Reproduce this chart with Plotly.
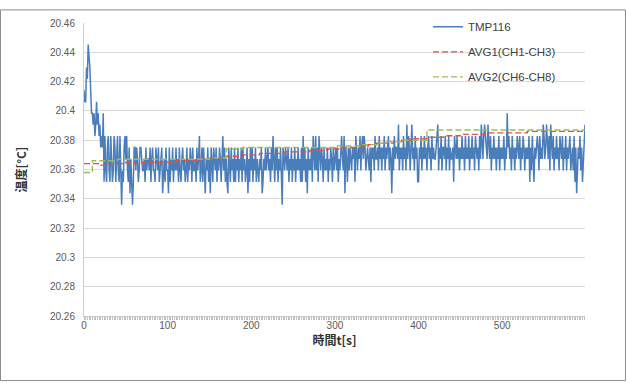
import plotly.graph_objects as go

# TMP116 readings, encoded as quantisation steps (hex digit) above 20.3359375 degC, 1 s apart
BASE = 20.3359375
LSB = 0.0078125
tmp116_codes = [
    "a99cbedca887867978675658" + "26325632642365246326303256",
    "4632514202" + "5535423554" + "3342534435" + "2453325435" + "2345134253",
    "3152435243" + "5342532453" + "4235243542" + "5334253462" + "3525214352",
    "4153254352" + "4354256352" + "4215325342" + "5243524352" + "5342351425",
    "3524352432" + "4351243534" + "5342536425" + "3524352054" + "3543524352",
    "4352435342" + "5263524153" + "4352643635" + "2643542534" + "3524354253",
    "4535243564" + "3615425354" + "3545264354" + "6356465345" + "4352545364",
    "4536453546" + "3545635415" + "3645547354" + "5364537465" + "3574536452",
    "2546354645" + "3564536454" + "4567354635" + "5463546354" + "4526546453",
    "5464536454" + "6354645365" + "4536475467" + "6547546354" + "6453546354",
    "5463548564" + "5364535465" + "4635465354" + "5462536425" + "4565364547",
    "6457546375" + "4635464536" + "5463546354" + "5634536251" + "3546352457",
]
tmp116 = [BASE + int(c, 16) * LSB for c in "".join(tmp116_codes)]
time_s = list(range(len(tmp116)))

# averages, read every 10 s
avg_time = list(range(0, 600, 10))
avg1 = [20.364, 20.364, 20.363, 20.364, 20.364, 20.365, 20.364, 20.365, 20.365, 20.365,
        20.365, 20.366, 20.366, 20.366, 20.367, 20.368, 20.368, 20.369, 20.369, 20.370,
        20.370, 20.371, 20.371, 20.371, 20.372, 20.372, 20.372, 20.373, 20.373, 20.374,
        20.374, 20.375, 20.375, 20.376, 20.377, 20.378, 20.378, 20.379, 20.380, 20.381,
        20.381, 20.382, 20.382, 20.383, 20.383, 20.384, 20.384, 20.384, 20.385, 20.385,
        20.385, 20.385, 20.385, 20.386, 20.386, 20.386, 20.386, 20.386, 20.386, 20.386]
avg2 = [20.358, 20.366, 20.366, 20.366, 20.367, 20.367, 20.367, 20.367, 20.367, 20.367,
        20.367, 20.367, 20.367, 20.367, 20.367, 20.368, 20.368, 20.374, 20.374, 20.375,
        20.375, 20.375, 20.375, 20.375, 20.375, 20.375, 20.375, 20.375, 20.375, 20.375,
        20.376, 20.376, 20.376, 20.377, 20.377, 20.378, 20.379, 20.379, 20.380, 20.380,
        20.380, 20.387, 20.387, 20.387, 20.387, 20.387, 20.387, 20.387, 20.387, 20.387,
        20.387, 20.387, 20.387, 20.387, 20.387, 20.387, 20.387, 20.387, 20.387, 20.387]

y_ticks = [20.26, 20.28, 20.30, 20.32, 20.34, 20.36, 20.38, 20.40, 20.42, 20.44, 20.46]
y_labels = ["20.26", "20.28", "20.3", "20.32", "20.34", "20.36", "20.38", "20.4", "20.42", "20.44", "20.46"]
x_ticks = [0, 100, 200, 300, 400, 500]

fig = go.Figure()
fig.add_trace(go.Scatter(x=time_s, y=tmp116, mode="lines", name="TMP116",
                         line=dict(color="#4A7EBB", width=1.5), legendgroup="a"))
fig.add_trace(go.Scatter(x=avg_time + [599], y=avg1 + [avg1[-1]], mode="lines", name="AVG1(CH1-CH3)",
                         line=dict(color="#D9534F", width=1.4, dash="6px,3px", shape="hv"), legendgroup="b"))
fig.add_trace(go.Scatter(x=avg_time + [599], y=avg2 + [avg2[-1]], mode="lines", name="AVG2(CH6-CH8)",
                         line=dict(color="#9BBB59", width=1.4, dash="6px,3px", shape="hv"), legendgroup="c"))

L, R, T, B = 84, 41, 14, 67
W, H = 626, 383
pw, ph = W - L - R, H - T - B

fig.update_layout(
    width=W, height=H,
    margin=dict(l=L, r=R, t=T, b=B),
    paper_bgcolor="white", plot_bgcolor="white",
    font=dict(family="Liberation Sans, Noto Sans CJK JP", size=10, color="#595959"),
    showlegend=True,
    legend=dict(x=(428 - L) / pw, y=(316 - 3) / ph, xanchor="left", yanchor="top",
                bgcolor="rgba(0,0,0,0)", font=dict(size=11.5, color="#404040"),
                tracegroupgap=6, itemwidth=30),
    xaxis=dict(range=[0, 599], tickvals=x_ticks, ticktext=[str(v) for v in x_ticks],
               showgrid=False, zeroline=False, showline=True, linecolor="#C8C8C8", linewidth=1,
               ticks="", tickfont=dict(size=10, color="#595959"),
               minor=dict(dtick=2, ticks="outside", ticklen=3, tickcolor="#C0C0C0", tickwidth=1, showgrid=False),
               title=dict(text="<b>時間t[s]</b>", font=dict(family="Noto Sans CJK JP", size=12, color="#333333"), standoff=6)),
    yaxis=dict(range=[20.26, 20.46], tickvals=y_ticks, ticktext=y_labels,
               showgrid=True, gridcolor="#D9D9D9", gridwidth=1, zeroline=False,
               showline=True, linecolor="#D0D0D0", linewidth=1, ticks="",
               ticklabelstandoff=6, tickfont=dict(size=10, color="#595959"),
               title=dict(text="<b>温度[°C]</b>", font=dict(family="Noto Sans CJK JP", size=12, color="#333333"), standoff=20)),
    shapes=[dict(type="rect", xref="paper", yref="paper",
                 x0=(0.5 - L) / pw, x1=(W - 0.5 - L) / pw,
                 y0=(T + ph - (H - 0.5)) / ph, y1=(T + ph - 0.5) / ph,
                 line=dict(color="#8C8C8C", width=1), fillcolor="rgba(0,0,0,0)", layer="below")],
)

fig.write_html("out.html", config={"displayModeBar": False},
               post_script="document.body.style.margin='0px';")
